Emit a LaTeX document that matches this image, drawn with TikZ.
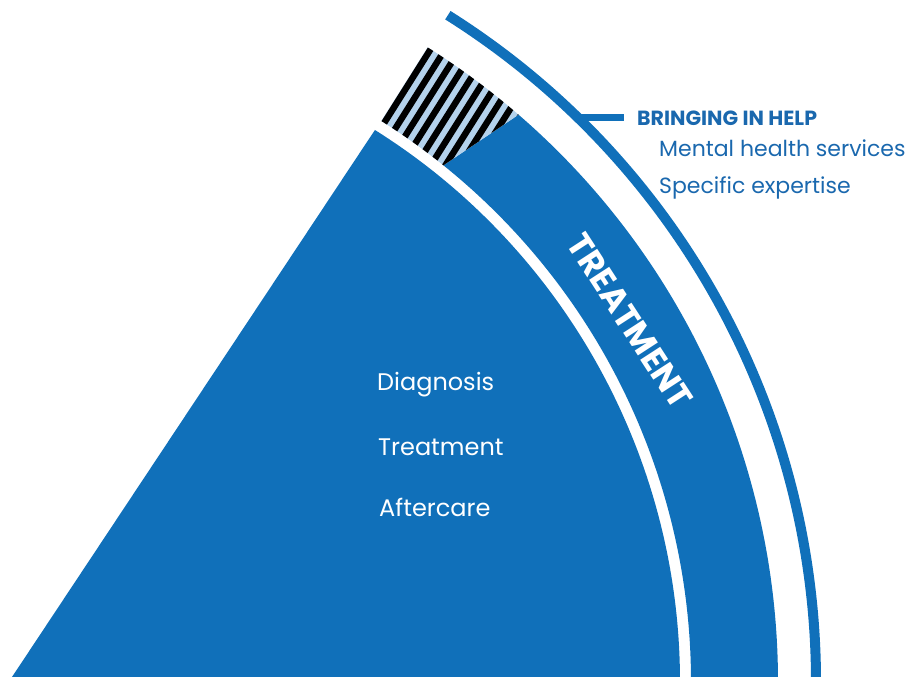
\documentclass[tikz,border=0pt]{standalone}
\usepackage{fontspec}
\setmainfont{Poppins}
\usetikzlibrary{calc}
\definecolor{mainblue}{HTML}{1070BA}
\definecolor{hatchblue}{HTML}{B4D2EC}
\definecolor{textblue}{HTML}{1A68AE}
\begin{document}
\begin{tikzpicture}[x=1pt,y=1pt,
  innertext/.style={text=white,anchor=base west,inner sep=0pt,font=\fontsize{24}{28}\selectfont},
  sidetext/.style={text=textblue,anchor=base west,inner sep=0pt,font=\fontsize{22}{26}\selectfont},
  headtext/.style={text=textblue,anchor=base west,inner sep=0pt,font=\bfseries\fontsize{20.5}{24}\selectfont},
  bandtext/.style={text=white,inner sep=0pt,font=\bfseries\fontsize{34}{38}\selectfont}]
\useasboundingbox (0,0) rectangle (914,677);
\clip (0,0) rectangle (914,677);
\coordinate (C) at (28,-5);
% inner sector
\fill[mainblue] (12,0) -- ($(C)+(57.85:652)$) arc[start angle=57.85,end angle=-3,radius=652] -- (0,-40) -- cycle;
% band (blue part)
\fill[mainblue] ($(C)+(49.15:750)$) arc[start angle=49.15,end angle=-3,radius=750]
  -- ($(C)+(-3:663)$) arc[start angle=-3,end angle=51.2,radius=663] -- cycle;
% hatched part
\begin{scope}
\clip ($(C)+(57.8:663)$) -- ($(C)+(57.8:750)$) arc[start angle=57.8,end angle=49.15,radius=750]
  -- ($(C)+(51.2:663)$) arc[start angle=51.2,end angle=57.8,radius=663] -- cycle;
\fill[hatchblue] (350,480) rectangle (560,660);
\foreach \k in {0,...,9}
  \draw[black,line width=6.4pt] ($(C)+(57.8:663)+(-32.2:{3.5+\k*12.4})+(57.8:-150)$) -- ++(57.8:300);
\end{scope}
% outer line
\draw[mainblue,line width=10pt] ($(C)+(57.8:788)$) arc[start angle=57.8,end angle=-3,radius=788];
% texts
\node[innertext] (diag) at (377,286) {Diagnosis};
\node[innertext] (treat) at (378,221) {Treatment};
\node[innertext] (after) at (379,160) {Aftercare};
\node[bandtext,rotate=-57] (band) at (630,356) {TREATMENT};
\node[headtext] (help) at (637,551) {BRINGING IN HELP};
\node[sidetext] (mental) at (659,520) {Mental health services};
\node[sidetext] (spec) at (659,483) {Specific expertise};
\coordinate (barstart) at (576,559);
\draw[mainblue,line width=7pt] (barstart) -- ($(help.base west)+(-13,8)$);
\end{tikzpicture}
\end{document}
